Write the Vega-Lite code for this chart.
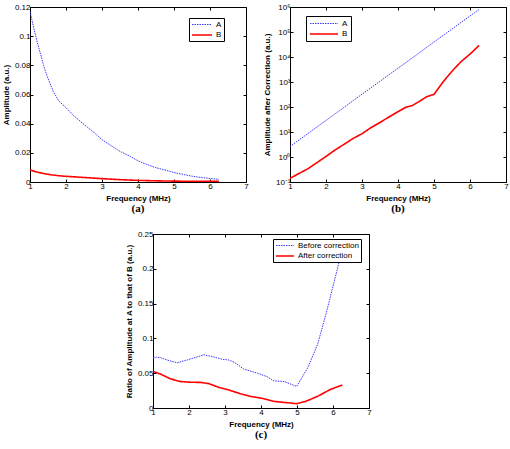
{
  "$schema": "https://vega.github.io/schema/vega-lite/v6.json",
  "padding": {"left": 1, "top": 2, "right": 0, "bottom": 0},
  "autosize": {"type": "pad"},
  "spacing": 14,
  "resolve": {"scale": {"color": "independent", "strokeDash": "independent", "strokeWidth": "independent"}, "legend": {"color": "independent", "strokeDash": "independent"}},
  "config": {
    "font": "Liberation Sans",
    "view": {"stroke": "black", "strokeWidth": 1},
    "axis": {"labelFont": "Liberation Sans", "labelFontSize": 8, "labelColor": "black", "titleFont": "Liberation Sans", "titleFontSize": 8, "titleFontWeight": "bold", "titleColor": "black", "domainColor": "black", "tickColor": "black", "tickSize": -3, "grid": false, "labelPadding": 3, "titlePadding": 4, "labelFlush": false, "labelOverlap": false},
    "legend": {"labelFont": "Liberation Sans", "labelFontSize": 8, "labelColor": "black", "strokeColor": "black", "fillColor": "white", "padding": 2, "rowPadding": 1, "symbolStrokeWidth": 1.5, "symbolSize": 64},
    "title": {"font": "Liberation Serif", "fontSize": 11, "fontWeight": "bold", "orient": "bottom", "anchor": "middle", "color": "black", "offset": 1}
  },
  "datasets": {
    "pa": [
      {"f": 1.0, "v": 0.117, "s": "A"}, {"f": 1.1, "v": 0.106, "s": "A"}, {"f": 1.2, "v": 0.096, "s": "A"}, {"f": 1.3, "v": 0.087, "s": "A"}, {"f": 1.4, "v": 0.078, "s": "A"}, {"f": 1.5, "v": 0.071, "s": "A"}, {"f": 1.65, "v": 0.062, "s": "A"}, {"f": 1.8, "v": 0.0555, "s": "A"}, {"f": 2.0, "v": 0.051, "s": "A"}, {"f": 2.2, "v": 0.0458, "s": "A"}, {"f": 2.4, "v": 0.0415, "s": "A"}, {"f": 2.6, "v": 0.0375, "s": "A"}, {"f": 2.8, "v": 0.0335, "s": "A"}, {"f": 3.0, "v": 0.029, "s": "A"}, {"f": 3.25, "v": 0.025, "s": "A"}, {"f": 3.5, "v": 0.021, "s": "A"}, {"f": 3.75, "v": 0.018, "s": "A"}, {"f": 4.0, "v": 0.0145, "s": "A"}, {"f": 4.25, "v": 0.012, "s": "A"}, {"f": 4.5, "v": 0.0098, "s": "A"}, {"f": 4.75, "v": 0.0082, "s": "A"}, {"f": 5.0, "v": 0.0065, "s": "A"}, {"f": 5.25, "v": 0.0052, "s": "A"}, {"f": 5.5, "v": 0.004, "s": "A"}, {"f": 5.75, "v": 0.0031, "s": "A"}, {"f": 6.0, "v": 0.0024, "s": "A"}, {"f": 6.25, "v": 0.0018, "s": "A"},
      {"f": 1.0, "v": 0.0082, "s": "B"}, {"f": 1.2, "v": 0.0068, "s": "B"}, {"f": 1.4, "v": 0.0057, "s": "B"}, {"f": 1.6, "v": 0.0049, "s": "B"}, {"f": 1.8, "v": 0.0043, "s": "B"}, {"f": 2.0, "v": 0.0039, "s": "B"}, {"f": 2.5, "v": 0.0031, "s": "B"}, {"f": 3.0, "v": 0.0023, "s": "B"}, {"f": 3.5, "v": 0.0016, "s": "B"}, {"f": 4.0, "v": 0.0011, "s": "B"}, {"f": 4.5, "v": 0.0008, "s": "B"}, {"f": 5.0, "v": 0.0006, "s": "B"}, {"f": 5.5, "v": 0.0005, "s": "B"}, {"f": 6.0, "v": 0.0004, "s": "B"}, {"f": 6.25, "v": 0.0004, "s": "B"}
    ],
    "pb": [
      {"f": 1.0, "v": 2.6, "s": "A"}, {"f": 1.25, "v": 4.8, "s": "A"}, {"f": 1.5, "v": 8.7, "s": "A"}, {"f": 1.75, "v": 16, "s": "A"}, {"f": 2.0, "v": 29, "s": "A"}, {"f": 2.25, "v": 53, "s": "A"}, {"f": 2.5, "v": 96, "s": "A"}, {"f": 2.75, "v": 178, "s": "A"}, {"f": 3.0, "v": 324, "s": "A"}, {"f": 3.25, "v": 589, "s": "A"}, {"f": 3.5, "v": 1070, "s": "A"}, {"f": 3.75, "v": 1950, "s": "A"}, {"f": 4.0, "v": 3550, "s": "A"}, {"f": 4.25, "v": 6460, "s": "A"}, {"f": 4.5, "v": 11750, "s": "A"}, {"f": 4.75, "v": 21900, "s": "A"}, {"f": 5.0, "v": 39800, "s": "A"}, {"f": 5.25, "v": 72400, "s": "A"}, {"f": 5.5, "v": 132000, "s": "A"}, {"f": 5.75, "v": 240000, "s": "A"}, {"f": 6.0, "v": 437000, "s": "A"}, {"f": 6.25, "v": 794000, "s": "A"},
      {"f": 1.0, "v": 0.14, "s": "B"}, {"f": 1.25, "v": 0.22, "s": "B"}, {"f": 1.5, "v": 0.34, "s": "B"}, {"f": 1.75, "v": 0.6, "s": "B"}, {"f": 2.0, "v": 1.05, "s": "B"}, {"f": 2.25, "v": 1.9, "s": "B"}, {"f": 2.5, "v": 3.2, "s": "B"}, {"f": 2.75, "v": 5.5, "s": "B"}, {"f": 3.0, "v": 8.5, "s": "B"}, {"f": 3.25, "v": 15, "s": "B"}, {"f": 3.5, "v": 24, "s": "B"}, {"f": 3.75, "v": 40, "s": "B"}, {"f": 4.0, "v": 65, "s": "B"}, {"f": 4.2, "v": 95, "s": "B"}, {"f": 4.4, "v": 115, "s": "B"}, {"f": 4.6, "v": 170, "s": "B"}, {"f": 4.8, "v": 260, "s": "B"}, {"f": 5.0, "v": 320, "s": "B"}, {"f": 5.25, "v": 1000, "s": "B"}, {"f": 5.5, "v": 2700, "s": "B"}, {"f": 5.75, "v": 6500, "s": "B"}, {"f": 6.0, "v": 13000, "s": "B"}, {"f": 6.25, "v": 29000, "s": "B"}
    ],
    "pc": [
      {"f": 1.0, "v": 0.072, "s": "Before correction"}, {"f": 1.1, "v": 0.073, "s": "Before correction"}, {"f": 1.2, "v": 0.0725, "s": "Before correction"}, {"f": 1.39, "v": 0.069, "s": "Before correction"}, {"f": 1.67, "v": 0.065, "s": "Before correction"}, {"f": 1.95, "v": 0.069, "s": "Before correction"}, {"f": 2.18, "v": 0.0726, "s": "Before correction"}, {"f": 2.41, "v": 0.0764, "s": "Before correction"}, {"f": 2.64, "v": 0.074, "s": "Before correction"}, {"f": 2.92, "v": 0.07, "s": "Before correction"}, {"f": 3.1, "v": 0.069, "s": "Before correction"}, {"f": 3.25, "v": 0.066, "s": "Before correction"}, {"f": 3.52, "v": 0.056, "s": "Before correction"}, {"f": 3.9, "v": 0.05, "s": "Before correction"}, {"f": 4.17, "v": 0.045, "s": "Before correction"}, {"f": 4.36, "v": 0.039, "s": "Before correction"}, {"f": 4.64, "v": 0.038, "s": "Before correction"}, {"f": 4.99, "v": 0.031, "s": "Before correction"}, {"f": 5.29, "v": 0.057, "s": "Before correction"}, {"f": 5.57, "v": 0.091, "s": "Before correction"}, {"f": 5.8, "v": 0.134, "s": "Before correction"}, {"f": 6.03, "v": 0.181, "s": "Before correction"}, {"f": 6.17, "v": 0.21, "s": "Before correction"}, {"f": 6.25, "v": 0.235, "s": "Before correction"},
      {"f": 1.0, "v": 0.0525, "s": "After correction"}, {"f": 1.2, "v": 0.049, "s": "After correction"}, {"f": 1.48, "v": 0.042, "s": "After correction"}, {"f": 1.76, "v": 0.038, "s": "After correction"}, {"f": 2.04, "v": 0.037, "s": "After correction"}, {"f": 2.32, "v": 0.0368, "s": "After correction"}, {"f": 2.55, "v": 0.035, "s": "After correction"}, {"f": 2.83, "v": 0.0296, "s": "After correction"}, {"f": 3.1, "v": 0.026, "s": "After correction"}, {"f": 3.43, "v": 0.0205, "s": "After correction"}, {"f": 3.71, "v": 0.0167, "s": "After correction"}, {"f": 4.08, "v": 0.0134, "s": "After correction"}, {"f": 4.36, "v": 0.0095, "s": "After correction"}, {"f": 4.73, "v": 0.0076, "s": "After correction"}, {"f": 4.99, "v": 0.0062, "s": "After correction"}, {"f": 5.24, "v": 0.0095, "s": "After correction"}, {"f": 5.57, "v": 0.0167, "s": "After correction"}, {"f": 5.94, "v": 0.027, "s": "After correction"}, {"f": 6.26, "v": 0.033, "s": "After correction"}
    ]
  },
  "vconcat": [
    {
      "bounds": "flush",
      "spacing": 44,
      "resolve": {"scale": {"color": "independent", "strokeDash": "independent", "strokeWidth": "independent"}, "legend": {"color": "independent", "strokeDash": "independent"}},
      "hconcat": [
        {
          "width": 216, "height": 175,
          "data": {"name": "pa"},
          "title": "(a)",
          "layer": [
            {
              "mark": {"type": "line", "clip": true},
              "encoding": {
                "x": {"field": "f", "type": "quantitative", "scale": {"domain": [1, 7], "nice": false, "zero": false}, "axis": {"title": "Frequency (MHz)", "values": [1, 2, 3, 4, 5, 6, 7]}},
                "y": {"field": "v", "type": "quantitative", "scale": {"domain": [0, 0.12], "nice": false}, "axis": {"title": "Amplitude (a.u.)", "values": [0, 0.02, 0.04, 0.06, 0.08, 0.1, 0.12], "format": ".2~f"}},
                "color": {"field": "s", "type": "nominal", "scale": {"domain": ["A", "B"], "range": ["#3a3aff", "#ff0000"]}, "legend": {"orient": "none", "legendX": 159, "legendY": 11, "title": null, "symbolType": "M-1,0H4", "labelOffset": 15}},
                "strokeDash": {"field": "s", "type": "nominal", "scale": {"domain": ["A", "B"], "range": [[1.5, 1], [1, 0]]}, "legend": {"orient": "none", "legendX": 159, "legendY": 11, "title": null, "symbolType": "M-1,0H4", "labelOffset": 15}},
                "strokeWidth": {"field": "s", "type": "nominal", "scale": {"domain": ["A", "B"], "range": [1, 1.6]}, "legend": null}
              }
            },
            {
              "mark": {"type": "line", "opacity": 0},
              "encoding": {
                "x": {"field": "f", "type": "quantitative", "scale": {"domain": [1, 7], "nice": false, "zero": false}, "axis": {"orient": "top", "labels": false, "title": null, "domain": false, "values": [1, 2, 3, 4, 5, 6, 7]}},
                "y": {"field": "v", "type": "quantitative", "scale": {"domain": [0, 0.12], "nice": false}, "axis": {"orient": "right", "labels": false, "title": null, "domain": false, "values": [0, 0.02, 0.04, 0.06, 0.08, 0.1, 0.12]}},
                "detail": {"field": "s"}
              }
            }
          ],
          "resolve": {"axis": {"x": "independent", "y": "independent"}}
        },
        {
          "width": 216, "height": 175,
          "data": {"name": "pb"},
          "title": "(b)",
          "layer": [
            {
              "mark": {"type": "line", "clip": true},
              "encoding": {
                "x": {"field": "f", "type": "quantitative", "scale": {"domain": [1, 7], "nice": false, "zero": false}, "axis": {"title": "Frequency (MHz)", "values": [1, 2, 3, 4, 5, 6, 7]}},
                "y": {"field": "v", "type": "quantitative", "scale": {"type": "log", "domain": [0.1, 1000000], "nice": false}, "axis": {"title": "Amplitude after Correction (a.u.)", "values": [0.1, 1, 10, 100, 1000, 10000, 100000, 1000000], "labelExpr": "'10' + ['⁻¹','⁰','¹','²','³','⁴','⁵','⁶'][round(log(datum.value)/LN10)+1]"}},
                "color": {"field": "s", "type": "nominal", "scale": {"domain": ["A", "B"], "range": ["#3a3aff", "#ff0000"]}, "legend": {"orient": "none", "legendX": 16, "legendY": 9, "title": null, "symbolType": "M-1,0H6", "labelOffset": 23, "padding": 3}},
                "strokeDash": {"field": "s", "type": "nominal", "scale": {"domain": ["A", "B"], "range": [[1.5, 1], [1, 0]]}, "legend": {"orient": "none", "legendX": 16, "legendY": 9, "title": null, "symbolType": "M-1,0H6", "labelOffset": 23, "padding": 3}},
                "strokeWidth": {"field": "s", "type": "nominal", "scale": {"domain": ["A", "B"], "range": [1, 1.6]}, "legend": null}
              }
            },
            {
              "mark": {"type": "line", "opacity": 0},
              "encoding": {
                "x": {"field": "f", "type": "quantitative", "scale": {"domain": [1, 7], "nice": false, "zero": false}, "axis": {"orient": "top", "labels": false, "title": null, "domain": false, "values": [1, 2, 3, 4, 5, 6, 7]}},
                "y": {"field": "v", "type": "quantitative", "scale": {"type": "log", "domain": [0.1, 1000000], "nice": false}, "axis": {"orient": "right", "labels": false, "title": null, "domain": false, "values": [0.1, 1, 10, 100, 1000, 10000, 100000, 1000000]}},
                "detail": {"field": "s"}
              }
            }
          ],
          "resolve": {"axis": {"x": "independent", "y": "independent"}}
        }
      ]
    },
    {
      "bounds": "flush",
      "spacing": 122,
      "resolve": {"scale": {"color": "independent", "strokeDash": "independent", "strokeWidth": "independent"}, "legend": {"color": "independent", "strokeDash": "independent"}},
      "hconcat": [
        {
          "width": 1, "height": 10,
          "data": {"values": []},
          "mark": "point",
          "view": {"stroke": "transparent"}
        },
        {
          "width": 216, "height": 174,
          "data": {"name": "pc"},
          "title": "(c)",
          "layer": [
            {
              "mark": {"type": "line", "clip": true},
              "encoding": {
                "x": {"field": "f", "type": "quantitative", "scale": {"domain": [1, 7], "nice": false, "zero": false}, "axis": {"title": "Frequency (MHz)", "values": [1, 2, 3, 4, 5, 6, 7]}},
                "y": {"field": "v", "type": "quantitative", "scale": {"domain": [0, 0.25], "nice": false}, "axis": {"title": "Ratio of Amplitude at A to that of B (a.u.)", "values": [0, 0.05, 0.1, 0.15, 0.2, 0.25], "format": ".2~f"}},
                "color": {"field": "s", "type": "nominal", "scale": {"domain": ["Before correction", "After correction"], "range": ["#3a3aff", "#ff0000"]}, "legend": {"orient": "none", "legendX": 120, "legendY": 5, "title": null, "symbolType": "M-1,0H3.5", "labelOffset": 13}},
                "strokeDash": {"field": "s", "type": "nominal", "scale": {"domain": ["Before correction", "After correction"], "range": [[1.5, 1], [1, 0]]}, "legend": {"orient": "none", "legendX": 120, "legendY": 5, "title": null, "symbolType": "M-1,0H3.5", "labelOffset": 13}},
                "strokeWidth": {"field": "s", "type": "nominal", "scale": {"domain": ["Before correction", "After correction"], "range": [1, 1.6]}, "legend": null}
              }
            },
            {
              "mark": {"type": "line", "opacity": 0},
              "encoding": {
                "x": {"field": "f", "type": "quantitative", "scale": {"domain": [1, 7], "nice": false, "zero": false}, "axis": {"orient": "top", "labels": false, "title": null, "domain": false, "values": [1, 2, 3, 4, 5, 6, 7]}},
                "y": {"field": "v", "type": "quantitative", "scale": {"domain": [0, 0.25], "nice": false}, "axis": {"orient": "right", "labels": false, "title": null, "domain": false, "values": [0, 0.05, 0.1, 0.15, 0.2, 0.25]}},
                "detail": {"field": "s"}
              }
            }
          ],
          "resolve": {"axis": {"x": "independent", "y": "independent"}}
        }
      ]
    }
  ]
}
